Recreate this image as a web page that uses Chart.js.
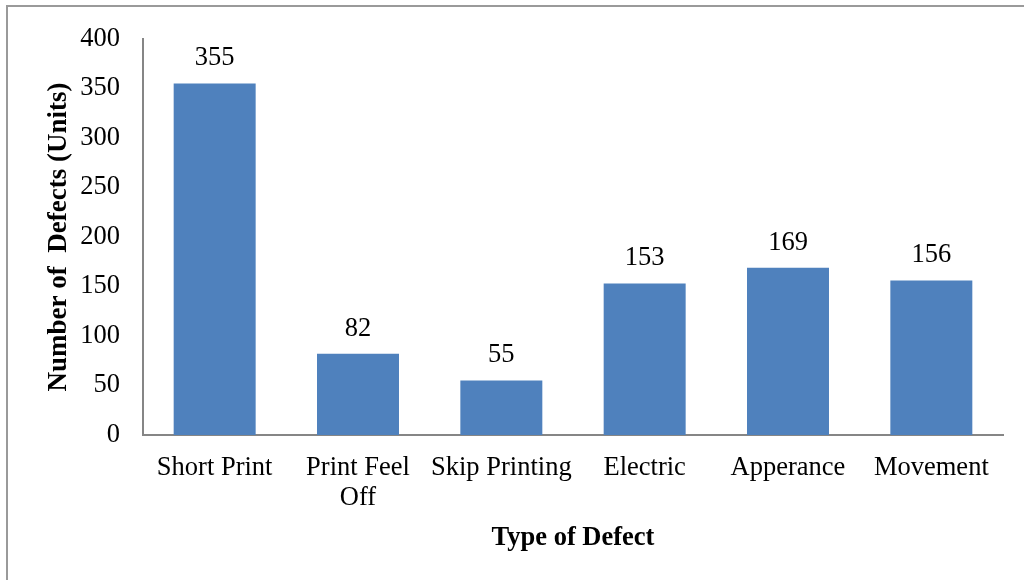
<!DOCTYPE html>
<html>
<head>
<meta charset="utf-8">
<script src="https://cdn.jsdelivr.net/npm/chart.js@4"></script>
<style>
  html, body { margin: 0; padding: 0; background: #fff; }
  #wrap { position: relative; width: 1024px; height: 580px; overflow: hidden; }
  #frame { position: absolute; left: 6px; top: 5px; width: 1030px; height: 600px; border: 2px solid #9a9a9a; box-sizing: border-box; }
  canvas { position: absolute; left: 0; top: 0; }
</style>
</head>
<body>
<div id="wrap">
  <div id="frame"></div>
  <canvas id="defects" width="1024" height="580"></canvas>
</div>
<script>
// Defect counts by type
const defectTypes = ['Short Print', ['Print Feel', 'Off'], 'Skip Printing', 'Electric', 'Apperance', 'Movement'];
const defectCounts = [355, 82, 55, 153, 169, 156];
const yTicks = [0, 50, 100, 150, 200, 250, 300, 350, 400];

const serif = "'Liberation Serif', 'Times New Roman', serif";
const axisGray = '#868686';

// writes the count above each bar
const barValues = {
  id: 'barValues',
  afterDatasetsDraw(chart) {
    const ctx = chart.ctx;
    const meta = chart.getDatasetMeta(0);
    ctx.save();
    ctx.font = '26.5px ' + serif;
    ctx.fillStyle = '#000';
    ctx.textAlign = 'center';
    ctx.textBaseline = 'middle';
    meta.data.forEach((bar, i) => {
      ctx.fillText(String(defectCounts[i]), bar.x, bar.y - 25);
    });
    ctx.restore();
  }
};

new Chart(document.getElementById('defects'), {
  type: 'bar',
  data: {
    labels: defectTypes,
    datasets: [{
      data: defectCounts,
      backgroundColor: '#4f81bd',
      borderWidth: 0,
      barPercentage: 1,
      categoryPercentage: 0.572
    }]
  },
  options: {
    responsive: false,
    animation: false,
    layout: { padding: { top: 35, right: 21, left: 0, bottom: 0 } },
    plugins: { legend: { display: false }, tooltip: { enabled: false } },
    scales: {
      x: {
        grid: { display: false, drawTicks: false },
        border: { display: true, color: axisGray, width: 2 },
        ticks: {
          color: '#000',
          font: { family: serif, size: 26.5, lineHeight: 1.13 },
          padding: 18,
          maxRotation: 0,
          autoSkip: false
        },
        title: {
          display: true,
          text: 'Type of Defect',
          color: '#000',
          font: { family: serif, size: 26.5, weight: 'bold' },
          padding: { top: 0, bottom: 26 }
        },
        afterFit(scale) { scale.height = 145; }
      },
      y: {
        min: 0,
        max: 400,
        afterBuildTicks(scale) { scale.ticks = yTicks.map(v => ({ value: v })); },
        grid: { display: false, drawTicks: false },
        border: { display: true, color: axisGray, width: 2 },
        ticks: {
          color: '#000',
          font: { family: serif, size: 26.5 },
          padding: 23
        },
        title: {
          display: true,
          text: 'Number of  Defects (Units)',
          color: '#000',
          font: { family: serif, size: 27, weight: 'bold' },
          padding: { top: 43, bottom: 0 }
        },
        afterFit(scale) { scale.width = 143; }
      }
    }
  },
  plugins: [barValues]
});
</script>
</body>
</html>
